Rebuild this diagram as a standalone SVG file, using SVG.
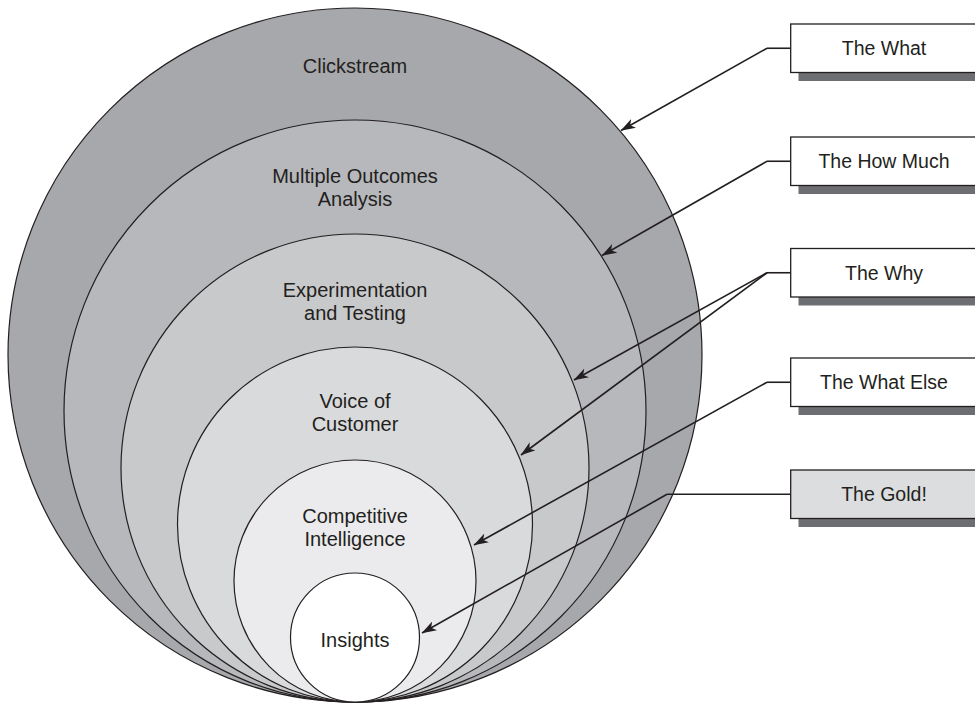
<svg xmlns="http://www.w3.org/2000/svg" width="975" height="704" viewBox="0 0 975 704">
<style>
.ring{stroke:#231f20;stroke-width:1.2}
.lbl{font-family:"Liberation Sans",Arial,sans-serif;font-size:20px;fill:#231f20;text-anchor:middle}
.blbl{font-family:"Liberation Sans",Arial,sans-serif;font-size:19.5px;fill:#231f20;text-anchor:middle}
.box{stroke:#231f20;stroke-width:1.3}
.shadow{fill:#6d6e71}
.conn{fill:none;stroke:#231f20;stroke-width:1.6;marker-end:url(#ah)}
.stub{fill:none;stroke:#231f20;stroke-width:1.6}
</style>
<defs>
<marker id="ah" viewBox="0 0 15 10" refX="14.5" refY="5" markerWidth="15" markerHeight="10" markerUnits="userSpaceOnUse" orient="auto">
<path d="M0,0 L15,5 L0,10 L4,5 z" fill="#231f20"/>
</marker>
</defs>
<rect width="975" height="704" fill="#ffffff"/>
<g id="clickstream">
<circle class="ring" cx="355" cy="355" r="347" fill="#a7a8ab"/>
<text class="lbl" x="355" y="72.5">Clickstream</text>
</g>
<g id="multiple-outcomes">
<circle class="ring" cx="355" cy="411" r="291" fill="#b7b8bb"/>
<text class="lbl" x="355" y="183">Multiple Outcomes</text>
<text class="lbl" x="355" y="206">Analysis</text>
</g>
<g id="experimentation">
<circle class="ring" cx="355" cy="468" r="234" fill="#c8c9cb"/>
<text class="lbl" x="355" y="296.5">Experimentation</text>
<text class="lbl" x="355" y="319.5">and Testing</text>
</g>
<g id="voice-of-customer">
<circle class="ring" cx="355" cy="524.5" r="177.5" fill="#d9dadc"/>
<text class="lbl" x="355" y="408">Voice of</text>
<text class="lbl" x="355" y="431">Customer</text>
</g>
<g id="competitive-intelligence">
<circle class="ring" cx="355" cy="581" r="121" fill="#ebebed"/>
<text class="lbl" x="355" y="523">Competitive</text>
<text class="lbl" x="355" y="546">Intelligence</text>
</g>
<g id="insights">
<circle class="ring" cx="355" cy="637.5" r="64.5" fill="#ffffff"/>
<text class="lbl" x="355" y="646.5">Insights</text>
</g>
<g id="connectors">
<path class="stub" d="M790.7,48.25 H767"/>
<path class="conn" d="M767,48.25 L621,130.5"/>
<path class="stub" d="M790.7,161.25 H767"/>
<path class="conn" d="M767,161.25 L602,255.5"/>
<path class="stub" d="M790.7,272.75 H767"/>
<path class="conn" d="M767,272.75 L574,380"/>
<path class="conn" d="M767,272.75 L521,455"/>
<path class="stub" d="M790.7,382.25 H767"/>
<path class="conn" d="M767,382.25 L474,545"/>
<path class="stub" d="M790.7,494.25 H667"/>
<path class="conn" d="M667,494.25 L422,633"/>
</g>
<g id="box-what">
<rect class="shadow" x="798.5" y="32.5" width="190" height="48.5"/>
<rect class="box" x="790.7" y="24" width="190" height="48.5" fill="#ffffff"/>
<text class="blbl" x="884" y="55.2">The What</text>
</g>
<g id="box-how-much">
<rect class="shadow" x="798.5" y="145.5" width="190" height="48.5"/>
<rect class="box" x="790.7" y="137" width="190" height="48.5" fill="#ffffff"/>
<text class="blbl" x="884" y="168.2">The How Much</text>
</g>
<g id="box-why">
<rect class="shadow" x="798.5" y="257" width="190" height="48.5"/>
<rect class="box" x="790.7" y="248.5" width="190" height="48.5" fill="#ffffff"/>
<text class="blbl" x="884" y="279.7">The Why</text>
</g>
<g id="box-what-else">
<rect class="shadow" x="798.5" y="366.5" width="190" height="48.5"/>
<rect class="box" x="790.7" y="358" width="190" height="48.5" fill="#ffffff"/>
<text class="blbl" x="884" y="389.2">The What Else</text>
</g>
<g id="box-gold">
<rect class="shadow" x="798.5" y="478.5" width="190" height="48.5"/>
<rect class="box" x="790.7" y="470" width="190" height="48.5" fill="#dcdddf"/>
<text class="blbl" x="884" y="501.2">The Gold!</text>
</g>
</svg>
